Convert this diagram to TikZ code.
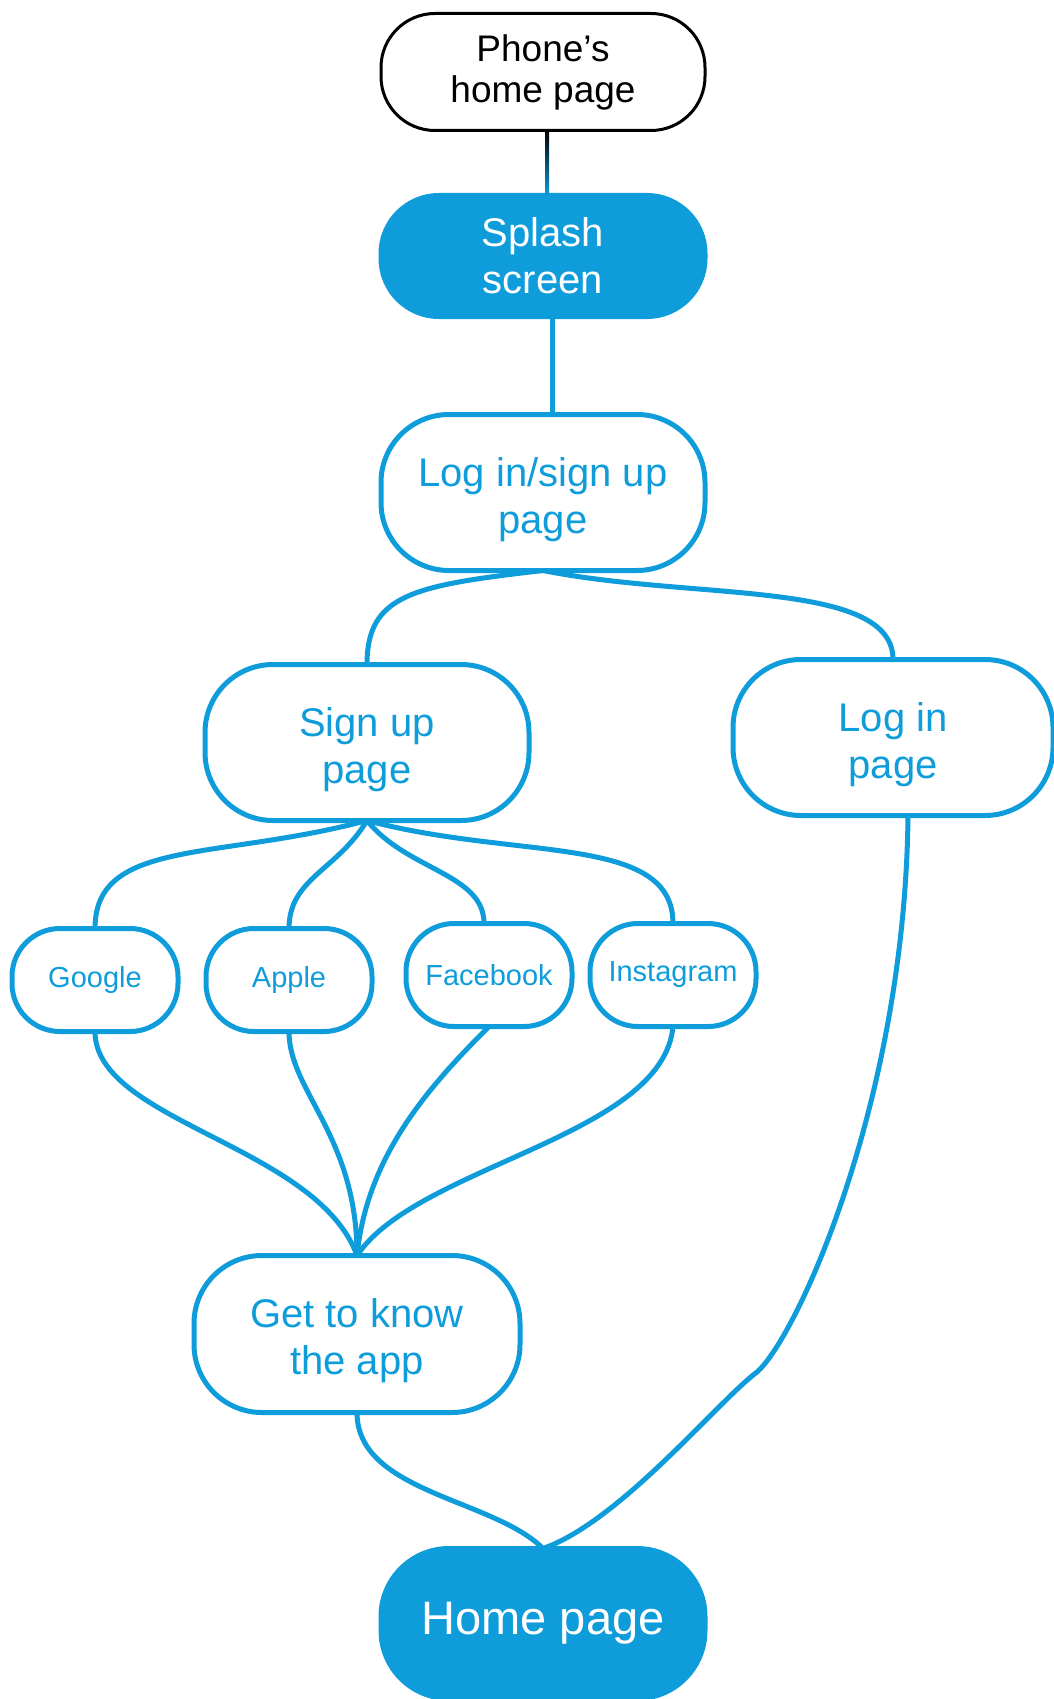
\documentclass[tikz,border=0pt]{standalone}
\usepackage{fontspec}
\setmainfont{Liberation Sans}
\usetikzlibrary{positioning}
\definecolor{flowblue}{RGB}{14,156,218}
\newcommand{\lift}{\rule{0pt}{43pt}}

\begin{document}
\begin{tikzpicture}[x=1pt,y=1pt,
    page/.style={rectangle,draw=flowblue,line width=5pt,outer sep=0pt,minimum width=324pt,minimum height=156pt,rounded corners=68pt,align=center,text=flowblue,font=\fontsize{40}{47}\selectfont},
    filled/.style={page,fill=flowblue,text=white},
    choice/.style={page,minimum width=166pt,minimum height=103pt,rounded corners=48pt,font=\fontsize{29}{34}\selectfont},
    link/.style={draw=flowblue,line width=5pt,line cap=round}
]
    \useasboundingbox (0,0) rectangle (1054,-1699);

    \node[page,draw=black,line width=3pt,text=black,minimum height=117pt,rounded corners=54pt,font=\fontsize{37}{41}\selectfont] (phone) at (543,-72) {Phone\char"0027 s\\home page};
    \node[filled,minimum height=121pt,rounded corners=58pt,below=65pt of phone] (splash) {Splash\\screen};
    \node[page,below=98pt of splash] (choose) {\lift Log in/sign up\\page};

    \node[page,below=94pt of choose,xshift=-176pt] (signup) {\lift Sign up\\page};
    \node[page,minimum width=320pt,below=89pt of choose,xshift=350pt] (login) {\lift Log in\\page};

    \node[choice,below=108pt of signup,xshift=-272pt] (google) {Google};
    \node[choice,below=108pt of signup,xshift=-78pt] (apple) {Apple};
    \node[choice,below=103pt of signup,xshift=122pt] (fb) {Facebook};
    \node[choice,below=103pt of signup,xshift=306pt] (insta) {Instagram};

    \node[page,minimum width=326pt,minimum height=157pt,below=224pt of apple,xshift=68pt] (intro) {\lift Get to know\\the app};
    \node[filled,minimum height=150pt,font=\fontsize{47}{55}\selectfont,below=136pt of intro,xshift=186pt] (home) {Home page};

    \shade[top color=black,bottom color=flowblue] ([xshift=2pt]phone.south) rectangle ([xshift=6pt]splash.north);
    \draw[link] ([xshift=9pt]splash.south) -- ([xshift=9pt]choose.north);
    \draw[link] (choose.south) .. controls +(-130,-15) and +(0,70) .. (signup.north);
    \draw[link] (choose.south) .. controls +(150,-30) and +(0,80) .. (login.north);

    \draw[link] (signup.south) .. controls +(-150,-40) and +(0,90) .. (google.north);
    \draw[link] (signup.south) .. controls +(-30,-50) and +(0,50) .. (apple.north);
    \draw[link] (signup.south) .. controls +(40,-50) and +(0,50) .. ([xshift=-5pt]fb.north);
    \draw[link] (signup.south) .. controls +(150,-40) and +(0,90) .. (insta.north);

    \draw[link] (google.south) .. controls +(0,-90) and +(-40,110) .. (intro.north);
    \draw[link] (apple.south) .. controls +(0,-60) and +(0,120) .. (intro.north);
    \draw[link] (fb.south) .. controls +(-60,-60) and +(10,100) .. (intro.north);
    \draw[link] (insta.south) .. controls +(-10,-110) and +(60,90) .. (intro.north);

    \draw[link] (intro.south) .. controls +(0,-80) and +(-50,50) .. (home.north);
    \coordinate (turn) at (757,-1372);
    \draw[link] ([xshift=15pt]login.south) .. controls +(-3,-285) and +(40,35) .. (turn) .. controls +(-40,-30) and +(77,27) .. (home.north);
\end{tikzpicture}
\end{document}
